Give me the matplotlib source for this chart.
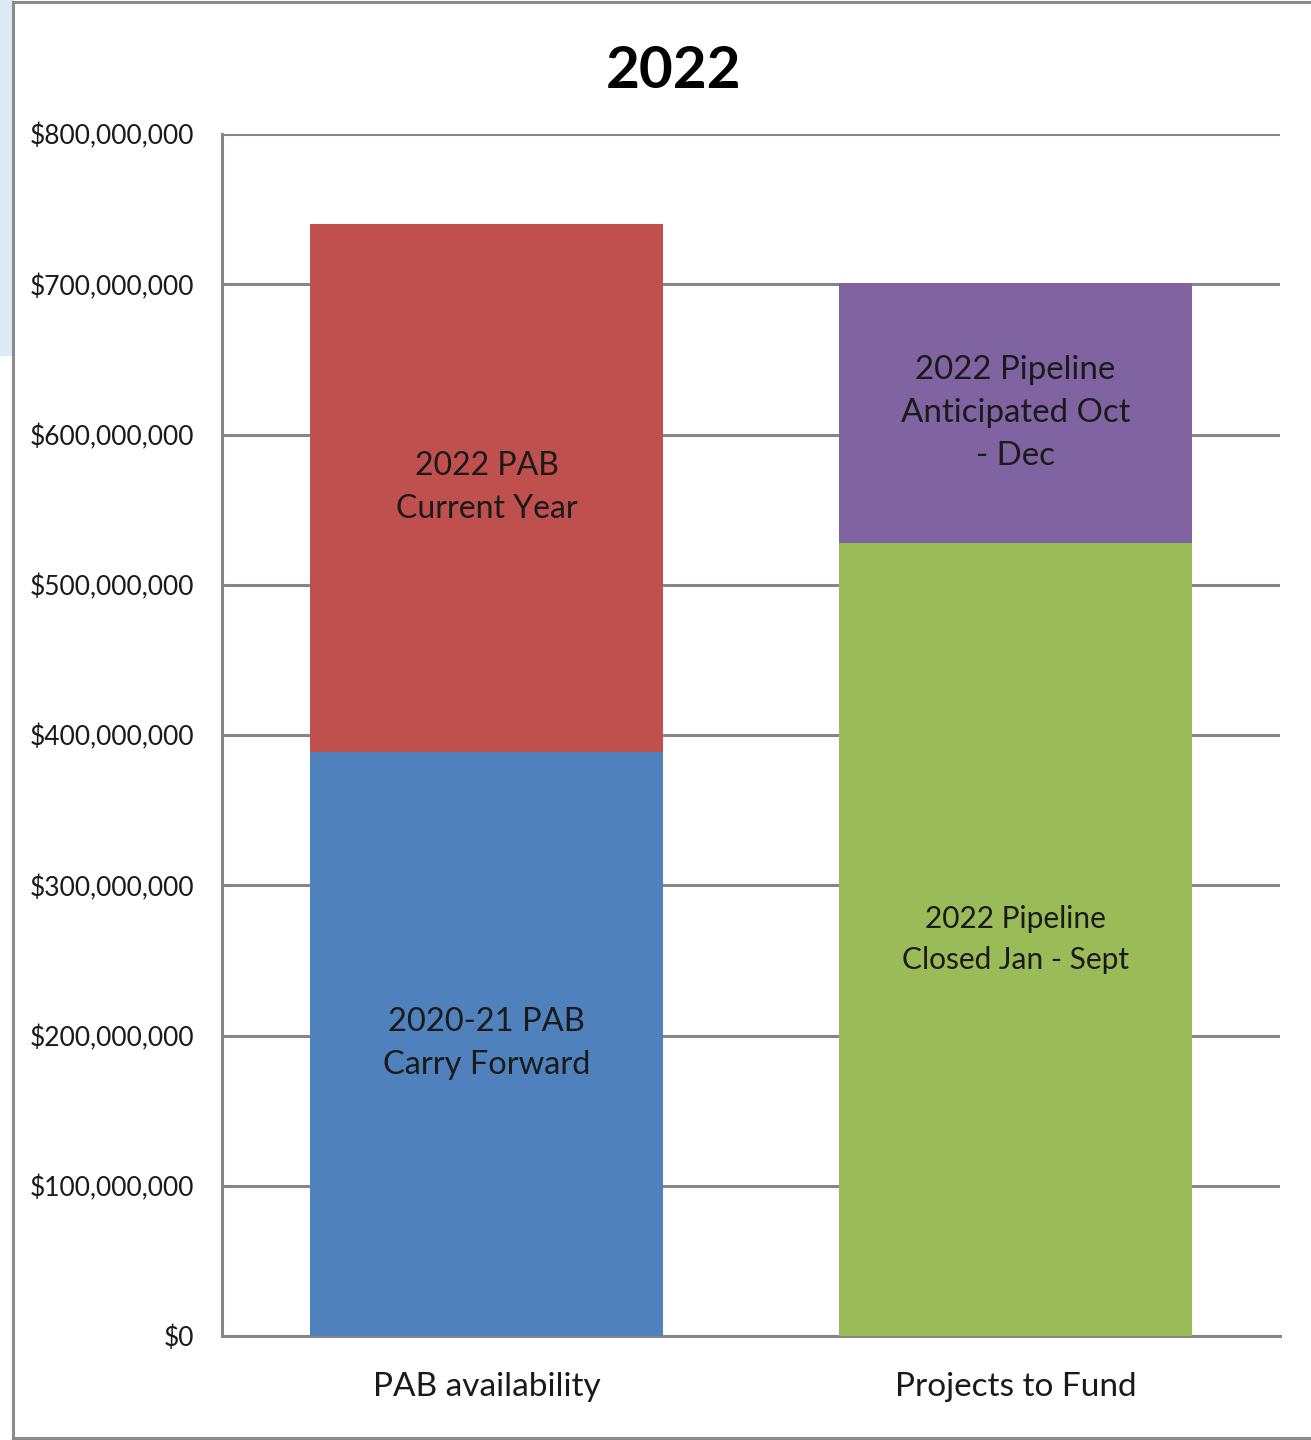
import matplotlib.pyplot as plt
from matplotlib.patches import Rectangle
from matplotlib.lines import Line2D
from matplotlib.ticker import FuncFormatter

plt.rcParams['font.family'] = ['Lato', 'DejaVu Sans']

# data (dollars)
categories = ['PAB availability', 'Projects to Fund']
bottom_vals = [389e6, 528e6]
top_vals = [351e6, 173e6]
bottom_labels = ['2020-21 PAB\nCarry Forward', '2022 Pipeline\nClosed Jan - Sept']
top_labels = ['2022 PAB\nCurrent Year', '2022 Pipeline\nAnticipated Oct\n- Dec']
bottom_colors = ['#4F81BD', '#9BBB59']
top_colors = ['#C0504D', '#8064A2']
bottom_sizes = [23.5, 21.5]
top_sizes = [23, 23.8]

fig = plt.figure(figsize=(13.11, 14.4), dpi=100)
W, H = 1311, 1440

# light blue strip and frame around the chart
fig.add_artist(Rectangle((0, 1 - 355 / H), 13 / W, 355 / H, transform=fig.transFigure,
                         color='#DDEBF7', zorder=0))
fc = '#8C8C8C'
fig.add_artist(Line2D([13 / W, 13 / W], [2 / H, 1 - 2 / H], transform=fig.transFigure, color=fc, lw=2.2))
fig.add_artist(Line2D([13 / W, 1], [1 - 2 / H, 1 - 2 / H], transform=fig.transFigure, color=fc, lw=2.2))
fig.add_artist(Line2D([13 / W, 1], [2 / H, 2 / H], transform=fig.transFigure, color=fc, lw=2.2))

ax = fig.add_axes([222 / W, 1 - 1336 / H, (1280 - 222) / W, (1336 - 134) / H])

x = range(len(categories))
ax.bar(x, bottom_vals, width=0.667, color=bottom_colors, zorder=3)
ax.bar(x, top_vals, width=0.667, bottom=bottom_vals, color=top_colors, zorder=3)

for i in x:
    ax.text(i, bottom_vals[i] / 2, bottom_labels[i], ha='center', va='center',
            fontsize=bottom_sizes[i], color='#1a1a1a', zorder=4, linespacing=1.55)
    ax.text(i, bottom_vals[i] + top_vals[i] / 2, top_labels[i], ha='center', va='center',
            fontsize=top_sizes[i], color='#1a1a1a', zorder=4, linespacing=1.55)

ax.set_xlim(-0.5, 1.5)
ax.set_ylim(0, 800e6)
ax.set_yticks([i * 100e6 for i in range(9)])
ax.yaxis.set_major_formatter(FuncFormatter(lambda v, p: '${:,.0f}'.format(v)))
ax.set_xticks(list(x))
ax.set_xticklabels(categories, fontsize=24)
ax.tick_params(axis='y', labelsize=19, length=0, pad=20)
ax.tick_params(axis='x', length=0, pad=26)
for lab in ax.get_yticklabels() + ax.get_xticklabels():
    lab.set_color('#1a1a1a')

ax.grid(axis='y', color='#868686', lw=2.2, zorder=0)
ax.set_axisbelow(True)
for s in ['top', 'right']:
    ax.spines[s].set_visible(False)
for s in ['left', 'bottom']:
    ax.spines[s].set_color('#868686')
    ax.spines[s].set_linewidth(2.2)

fig.text(673 / W, 1 - 72 / H, '2022', ha='center', va='center', fontsize=42, fontweight='bold')

plt.savefig('out.png', dpi=100)
